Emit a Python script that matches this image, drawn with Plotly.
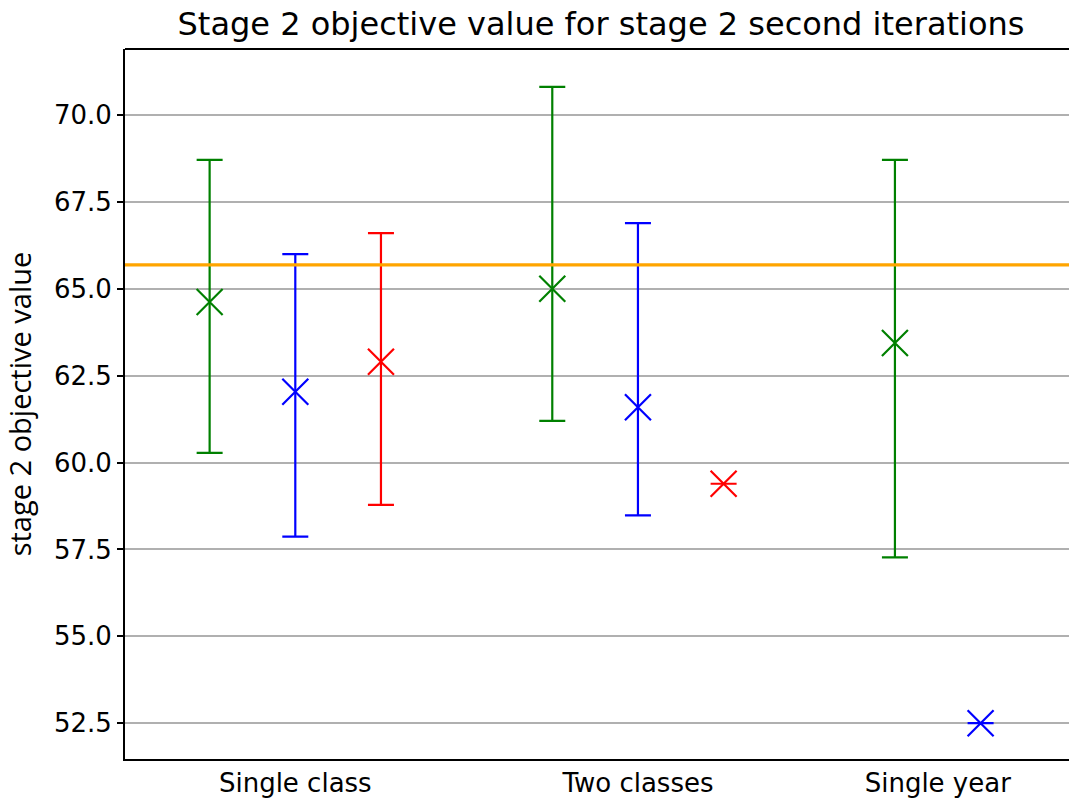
import plotly.graph_objects as go

# Scenario groups along the x axis
categories = ["Single class", "Two classes", "Single year"]

# Objective value per method: centre, lower bound and upper bound of the bar
green_mean = [64.62, 65.00, 63.44]
green_low = [60.28, 61.20, 57.27]
green_high = [68.71, 70.81, 68.71]

blue_mean = [62.04, 61.59, 52.50]
blue_low = [57.87, 58.48, 52.50]
blue_high = [66.00, 66.89, 52.50]

red_mean = [62.90, 59.39, None]
red_low = [58.78, 59.39, None]
red_high = [66.60, 59.39, None]

# Reference objective value (horizontal line)
reference_value = 65.69

series = [
    ("green", -0.25, green_mean, green_low, green_high),
    ("blue", 0.0, blue_mean, blue_low, blue_high),
    ("red", 0.25, red_mean, red_low, red_high),
]

fig = go.Figure()

group_positions = {i: [] for i in range(len(categories))}
for colour, offset, means, lows, highs in series:
    xs, ys, up, down = [], [], [], []
    for i, (m, lo, hi) in enumerate(zip(means, lows, highs)):
        if m is None:
            continue
        xs.append(i + offset)
        ys.append(m)
        up.append(hi - m)
        down.append(m - lo)
        group_positions[i].append(i + offset)
    fig.add_trace(go.Scatter(
        x=xs, y=ys, mode="markers", name=colour, showlegend=False,
        marker=dict(symbol="x-thin", size=26, color="rgba(0,0,0,0)",
                    line=dict(color=colour, width=2.2)),
        error_y=dict(type="data", symmetric=False, array=up, arrayminus=down,
                     color=colour, thickness=2.2, width=13),
    ))

# Tick labels sit at the middle of each group's markers
tickvals = [sum(p) / len(p) for i, p in group_positions.items()]

x_range = [-0.497, 2.258]
fig.add_trace(go.Scatter(
    x=x_range, y=[reference_value, reference_value], mode="lines",
    line=dict(color="orange", width=3.2), showlegend=False, hoverinfo="skip",
))

fig.update_layout(
    width=1070, height=798,
    margin=dict(l=125, r=1, t=49, b=39),
    plot_bgcolor="white", paper_bgcolor="white",
    font=dict(family="DejaVu Sans", color="black"),
    title=dict(text="Stage 2 objective value for stage 2 second iterations",
               x=601 / 1070, xanchor="center",
               y=1 - 24 / 798, yanchor="middle",
               font=dict(size=32, family="DejaVu Sans")),
)

fig.update_xaxes(
    range=x_range, tickvals=tickvals, ticktext=categories,
    showgrid=False, zeroline=False, ticks="", ticklen=0,
    tickfont=dict(size=26), showline=True, linecolor="black", linewidth=2,
    mirror=False,
)
fig.update_yaxes(
    range=[51.47, 71.90], tickvals=[52.5, 55, 57.5, 60, 62.5, 65, 67.5, 70],
    ticktext=["52.5", "55.0", "57.5", "60.0", "62.5", "65.0", "67.5", "70.0"],
    showgrid=True, gridcolor="#b0b0b0", gridwidth=1.5, zeroline=False,
    ticks="outside", ticklen=6, tickwidth=1.5, tickcolor="black",
    tickfont=dict(size=26), showline=True, linecolor="black", linewidth=2,
    title=dict(text="stage 2 objective value", standoff=14,
               font=dict(size=29, family="Open Sans")),
)

# Top border of the plotting area
fig.add_shape(type="line", xref="paper", yref="paper", x0=0, x1=1, y0=1, y1=1,
              line=dict(color="black", width=2))

fig.write_html("out.html")
